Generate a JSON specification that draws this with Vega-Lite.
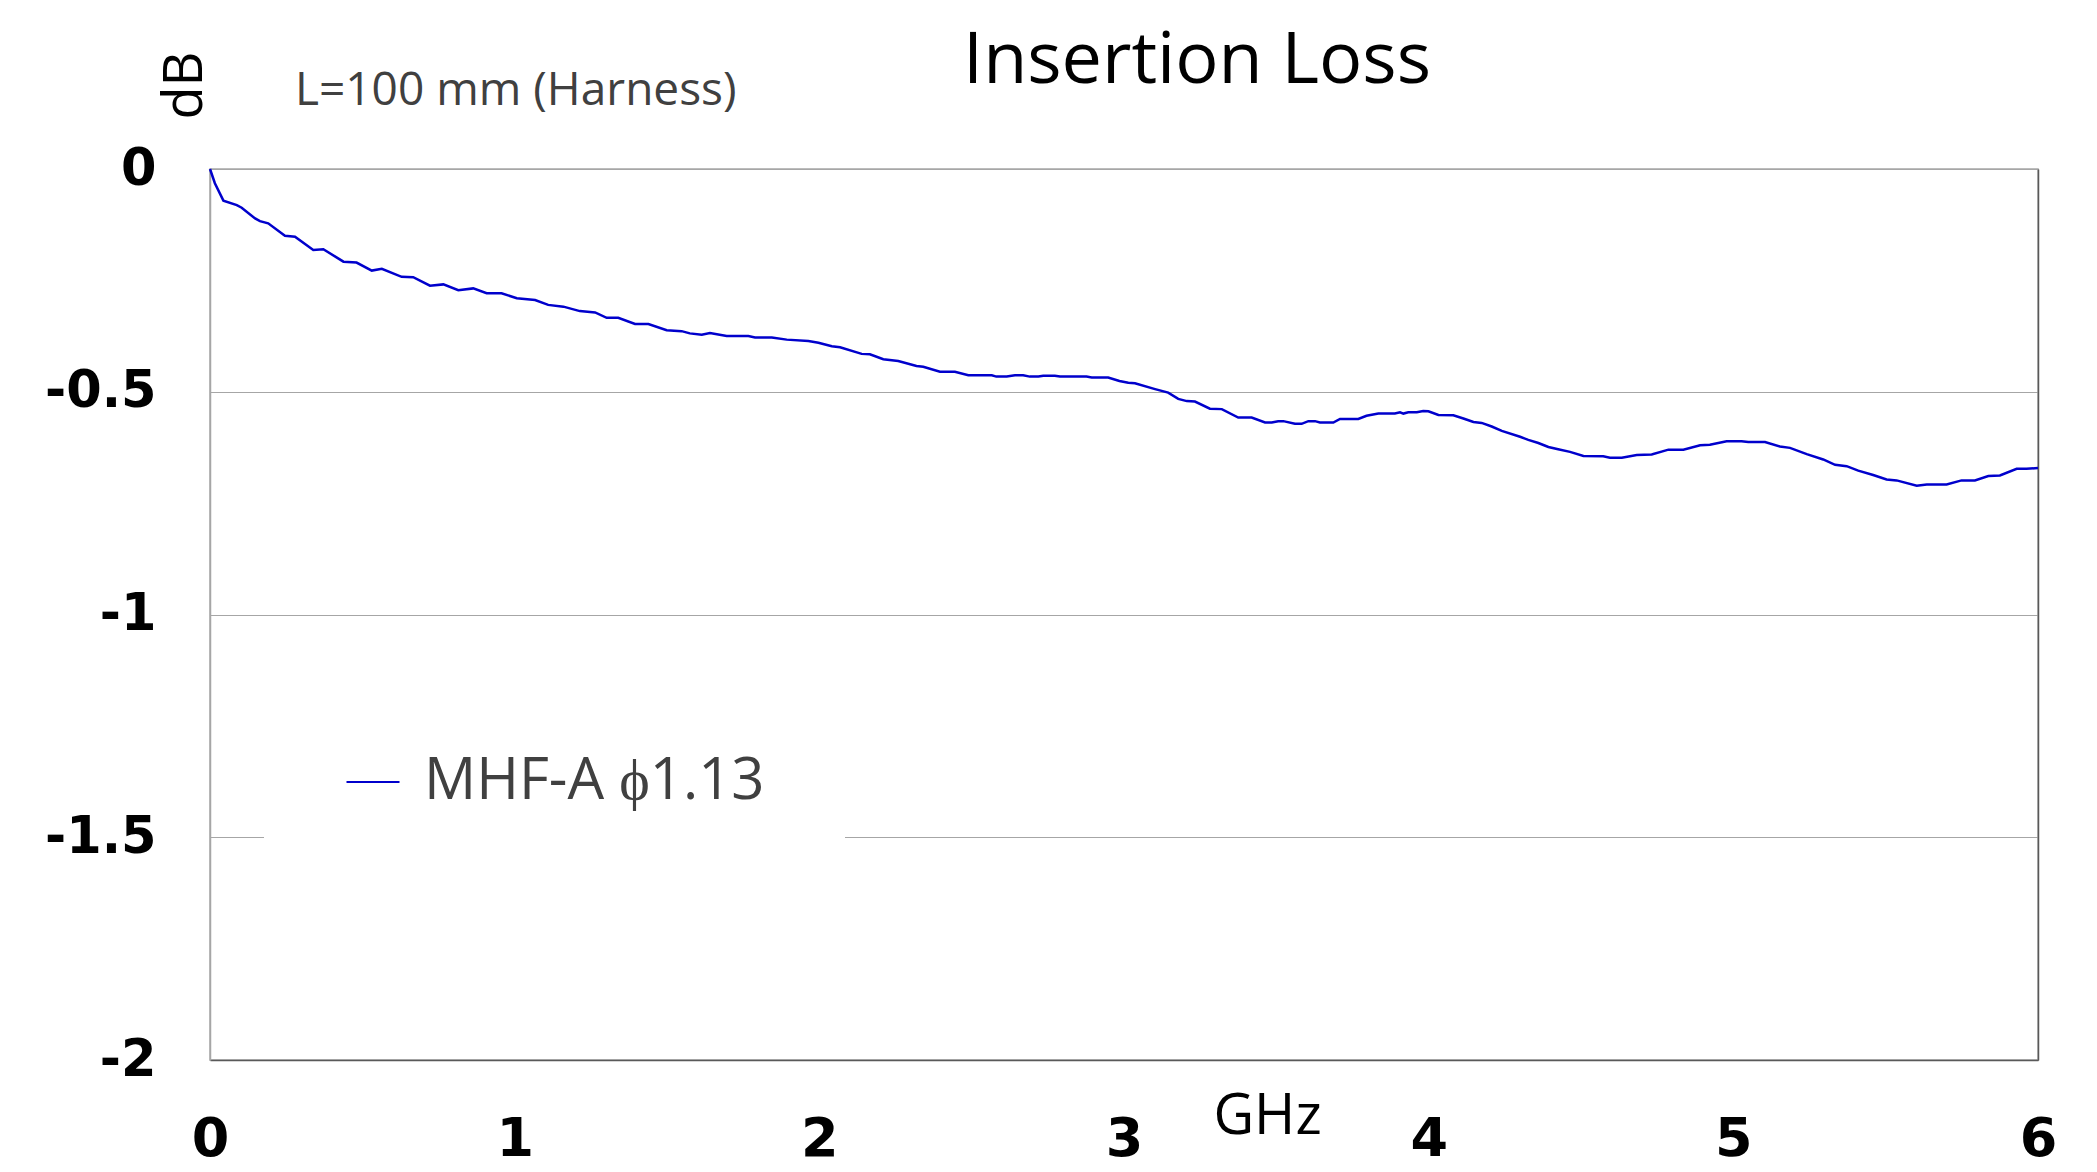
{
  "$schema": "https://vega.github.io/schema/vega-lite/v6.json",
  "width": 1828,
  "height": 891,
  "autosize": {"type": "none"},
  "padding": {"left": 210, "top": 169, "right": 59, "bottom": 112},
  "background": "white",
  "title": {
    "text": "Insertion Loss",
    "font": "Open Sans",
    "fontSize": 72,
    "fontWeight": "normal",
    "color": "#000000",
    "anchor": "middle",
    "frame": "group",
    "dx": 73,
    "baseline": "alphabetic",
    "offset": -104
  },
  "config": {
    "view": {"stroke": "#A6A6A6", "strokeWidth": 1.5},
    "axis": {"labelFont": "DejaVu Sans", "labelFontWeight": "bold", "labelColor": "#000000"}
  },
  "layer": [
    {
      "data": {
        "values": [
          {"f": 0, "db": 0, "series": "MHF-A ϕ1.13"},
          {"f": 0.016, "db": -0.032, "series": "MHF-A ϕ1.13"},
          {"f": 0.044, "db": -0.071, "series": "MHF-A ϕ1.13"},
          {"f": 0.088, "db": -0.081, "series": "MHF-A ϕ1.13"},
          {"f": 0.104, "db": -0.087, "series": "MHF-A ϕ1.13"},
          {"f": 0.148, "db": -0.111, "series": "MHF-A ϕ1.13"},
          {"f": 0.164, "db": -0.117, "series": "MHF-A ϕ1.13"},
          {"f": 0.191, "db": -0.122, "series": "MHF-A ϕ1.13"},
          {"f": 0.246, "db": -0.150, "series": "MHF-A ϕ1.13"},
          {"f": 0.279, "db": -0.152, "series": "MHF-A ϕ1.13"},
          {"f": 0.339, "db": -0.182, "series": "MHF-A ϕ1.13"},
          {"f": 0.372, "db": -0.180, "series": "MHF-A ϕ1.13"},
          {"f": 0.438, "db": -0.208, "series": "MHF-A ϕ1.13"},
          {"f": 0.481, "db": -0.210, "series": "MHF-A ϕ1.13"},
          {"f": 0.531, "db": -0.228, "series": "MHF-A ϕ1.13"},
          {"f": 0.564, "db": -0.224, "series": "MHF-A ϕ1.13"},
          {"f": 0.629, "db": -0.242, "series": "MHF-A ϕ1.13"},
          {"f": 0.667, "db": -0.243, "series": "MHF-A ϕ1.13"},
          {"f": 0.722, "db": -0.262, "series": "MHF-A ϕ1.13"},
          {"f": 0.766, "db": -0.259, "series": "MHF-A ϕ1.13"},
          {"f": 0.815, "db": -0.272, "series": "MHF-A ϕ1.13"},
          {"f": 0.864, "db": -0.268, "series": "MHF-A ϕ1.13"},
          {"f": 0.908, "db": -0.279, "series": "MHF-A ϕ1.13"},
          {"f": 0.957, "db": -0.279, "series": "MHF-A ϕ1.13"},
          {"f": 1.007, "db": -0.290, "series": "MHF-A ϕ1.13"},
          {"f": 1.067, "db": -0.294, "series": "MHF-A ϕ1.13"},
          {"f": 1.110, "db": -0.305, "series": "MHF-A ϕ1.13"},
          {"f": 1.160, "db": -0.309, "series": "MHF-A ϕ1.13"},
          {"f": 1.214, "db": -0.319, "series": "MHF-A ϕ1.13"},
          {"f": 1.264, "db": -0.322, "series": "MHF-A ϕ1.13"},
          {"f": 1.302, "db": -0.334, "series": "MHF-A ϕ1.13"},
          {"f": 1.340, "db": -0.334, "series": "MHF-A ϕ1.13"},
          {"f": 1.395, "db": -0.348, "series": "MHF-A ϕ1.13"},
          {"f": 1.439, "db": -0.348, "series": "MHF-A ϕ1.13"},
          {"f": 1.499, "db": -0.362, "series": "MHF-A ϕ1.13"},
          {"f": 1.548, "db": -0.364, "series": "MHF-A ϕ1.13"},
          {"f": 1.575, "db": -0.369, "series": "MHF-A ϕ1.13"},
          {"f": 1.614, "db": -0.372, "series": "MHF-A ϕ1.13"},
          {"f": 1.641, "db": -0.368, "series": "MHF-A ϕ1.13"},
          {"f": 1.696, "db": -0.375, "series": "MHF-A ϕ1.13"},
          {"f": 1.767, "db": -0.375, "series": "MHF-A ϕ1.13"},
          {"f": 1.789, "db": -0.378, "series": "MHF-A ϕ1.13"},
          {"f": 1.844, "db": -0.378, "series": "MHF-A ϕ1.13"},
          {"f": 1.893, "db": -0.383, "series": "MHF-A ϕ1.13"},
          {"f": 1.964, "db": -0.386, "series": "MHF-A ϕ1.13"},
          {"f": 1.997, "db": -0.390, "series": "MHF-A ϕ1.13"},
          {"f": 2.041, "db": -0.398, "series": "MHF-A ϕ1.13"},
          {"f": 2.068, "db": -0.400, "series": "MHF-A ϕ1.13"},
          {"f": 2.139, "db": -0.415, "series": "MHF-A ϕ1.13"},
          {"f": 2.166, "db": -0.416, "series": "MHF-A ϕ1.13"},
          {"f": 2.210, "db": -0.427, "series": "MHF-A ϕ1.13"},
          {"f": 2.259, "db": -0.431, "series": "MHF-A ϕ1.13"},
          {"f": 2.319, "db": -0.442, "series": "MHF-A ϕ1.13"},
          {"f": 2.341, "db": -0.444, "series": "MHF-A ϕ1.13"},
          {"f": 2.396, "db": -0.455, "series": "MHF-A ϕ1.13"},
          {"f": 2.445, "db": -0.455, "series": "MHF-A ϕ1.13"},
          {"f": 2.489, "db": -0.463, "series": "MHF-A ϕ1.13"},
          {"f": 2.566, "db": -0.463, "series": "MHF-A ϕ1.13"},
          {"f": 2.581, "db": -0.466, "series": "MHF-A ϕ1.13"},
          {"f": 2.615, "db": -0.466, "series": "MHF-A ϕ1.13"},
          {"f": 2.642, "db": -0.463, "series": "MHF-A ϕ1.13"},
          {"f": 2.669, "db": -0.463, "series": "MHF-A ϕ1.13"},
          {"f": 2.691, "db": -0.466, "series": "MHF-A ϕ1.13"},
          {"f": 2.719, "db": -0.466, "series": "MHF-A ϕ1.13"},
          {"f": 2.735, "db": -0.464, "series": "MHF-A ϕ1.13"},
          {"f": 2.773, "db": -0.464, "series": "MHF-A ϕ1.13"},
          {"f": 2.790, "db": -0.466, "series": "MHF-A ϕ1.13"},
          {"f": 2.877, "db": -0.466, "series": "MHF-A ϕ1.13"},
          {"f": 2.894, "db": -0.468, "series": "MHF-A ϕ1.13"},
          {"f": 2.948, "db": -0.468, "series": "MHF-A ϕ1.13"},
          {"f": 2.985, "db": -0.476, "series": "MHF-A ϕ1.13"},
          {"f": 3.014, "db": -0.480, "series": "MHF-A ϕ1.13"},
          {"f": 3.036, "db": -0.481, "series": "MHF-A ϕ1.13"},
          {"f": 3.102, "db": -0.494, "series": "MHF-A ϕ1.13"},
          {"f": 3.145, "db": -0.502, "series": "MHF-A ϕ1.13"},
          {"f": 3.178, "db": -0.516, "series": "MHF-A ϕ1.13"},
          {"f": 3.206, "db": -0.521, "series": "MHF-A ϕ1.13"},
          {"f": 3.233, "db": -0.522, "series": "MHF-A ϕ1.13"},
          {"f": 3.282, "db": -0.538, "series": "MHF-A ϕ1.13"},
          {"f": 3.321, "db": -0.539, "series": "MHF-A ϕ1.13"},
          {"f": 3.375, "db": -0.558, "series": "MHF-A ϕ1.13"},
          {"f": 3.419, "db": -0.558, "series": "MHF-A ϕ1.13"},
          {"f": 3.463, "db": -0.569, "series": "MHF-A ϕ1.13"},
          {"f": 3.485, "db": -0.569, "series": "MHF-A ϕ1.13"},
          {"f": 3.506, "db": -0.566, "series": "MHF-A ϕ1.13"},
          {"f": 3.523, "db": -0.566, "series": "MHF-A ϕ1.13"},
          {"f": 3.561, "db": -0.572, "series": "MHF-A ϕ1.13"},
          {"f": 3.583, "db": -0.572, "series": "MHF-A ϕ1.13"},
          {"f": 3.605, "db": -0.566, "series": "MHF-A ϕ1.13"},
          {"f": 3.627, "db": -0.566, "series": "MHF-A ϕ1.13"},
          {"f": 3.643, "db": -0.569, "series": "MHF-A ϕ1.13"},
          {"f": 3.687, "db": -0.569, "series": "MHF-A ϕ1.13"},
          {"f": 3.709, "db": -0.561, "series": "MHF-A ϕ1.13"},
          {"f": 3.769, "db": -0.561, "series": "MHF-A ϕ1.13"},
          {"f": 3.796, "db": -0.554, "series": "MHF-A ϕ1.13"},
          {"f": 3.835, "db": -0.549, "series": "MHF-A ϕ1.13"},
          {"f": 3.889, "db": -0.549, "series": "MHF-A ϕ1.13"},
          {"f": 3.906, "db": -0.546, "series": "MHF-A ϕ1.13"},
          {"f": 3.917, "db": -0.549, "series": "MHF-A ϕ1.13"},
          {"f": 3.933, "db": -0.546, "series": "MHF-A ϕ1.13"},
          {"f": 3.961, "db": -0.546, "series": "MHF-A ϕ1.13"},
          {"f": 3.982, "db": -0.543, "series": "MHF-A ϕ1.13"},
          {"f": 3.999, "db": -0.544, "series": "MHF-A ϕ1.13"},
          {"f": 4.032, "db": -0.552, "series": "MHF-A ϕ1.13"},
          {"f": 4.081, "db": -0.553, "series": "MHF-A ϕ1.13"},
          {"f": 4.114, "db": -0.560, "series": "MHF-A ϕ1.13"},
          {"f": 4.147, "db": -0.568, "series": "MHF-A ϕ1.13"},
          {"f": 4.174, "db": -0.570, "series": "MHF-A ϕ1.13"},
          {"f": 4.207, "db": -0.578, "series": "MHF-A ϕ1.13"},
          {"f": 4.240, "db": -0.588, "series": "MHF-A ϕ1.13"},
          {"f": 4.300, "db": -0.601, "series": "MHF-A ϕ1.13"},
          {"f": 4.327, "db": -0.608, "series": "MHF-A ϕ1.13"},
          {"f": 4.360, "db": -0.615, "series": "MHF-A ϕ1.13"},
          {"f": 4.393, "db": -0.624, "series": "MHF-A ϕ1.13"},
          {"f": 4.425, "db": -0.629, "series": "MHF-A ϕ1.13"},
          {"f": 4.464, "db": -0.635, "series": "MHF-A ϕ1.13"},
          {"f": 4.508, "db": -0.644, "series": "MHF-A ϕ1.13"},
          {"f": 4.573, "db": -0.645, "series": "MHF-A ϕ1.13"},
          {"f": 4.595, "db": -0.648, "series": "MHF-A ϕ1.13"},
          {"f": 4.634, "db": -0.648, "series": "MHF-A ϕ1.13"},
          {"f": 4.683, "db": -0.642, "series": "MHF-A ϕ1.13"},
          {"f": 4.732, "db": -0.641, "series": "MHF-A ϕ1.13"},
          {"f": 4.787, "db": -0.630, "series": "MHF-A ϕ1.13"},
          {"f": 4.836, "db": -0.630, "series": "MHF-A ϕ1.13"},
          {"f": 4.891, "db": -0.620, "series": "MHF-A ϕ1.13"},
          {"f": 4.923, "db": -0.619, "series": "MHF-A ϕ1.13"},
          {"f": 4.978, "db": -0.611, "series": "MHF-A ϕ1.13"},
          {"f": 5.027, "db": -0.611, "series": "MHF-A ϕ1.13"},
          {"f": 5.049, "db": -0.613, "series": "MHF-A ϕ1.13"},
          {"f": 5.104, "db": -0.613, "series": "MHF-A ϕ1.13"},
          {"f": 5.153, "db": -0.623, "series": "MHF-A ϕ1.13"},
          {"f": 5.186, "db": -0.626, "series": "MHF-A ϕ1.13"},
          {"f": 5.241, "db": -0.640, "series": "MHF-A ϕ1.13"},
          {"f": 5.295, "db": -0.652, "series": "MHF-A ϕ1.13"},
          {"f": 5.334, "db": -0.664, "series": "MHF-A ϕ1.13"},
          {"f": 5.372, "db": -0.667, "series": "MHF-A ϕ1.13"},
          {"f": 5.410, "db": -0.677, "series": "MHF-A ϕ1.13"},
          {"f": 5.459, "db": -0.687, "series": "MHF-A ϕ1.13"},
          {"f": 5.503, "db": -0.697, "series": "MHF-A ϕ1.13"},
          {"f": 5.536, "db": -0.699, "series": "MHF-A ϕ1.13"},
          {"f": 5.602, "db": -0.711, "series": "MHF-A ϕ1.13"},
          {"f": 5.635, "db": -0.708, "series": "MHF-A ϕ1.13"},
          {"f": 5.700, "db": -0.708, "series": "MHF-A ϕ1.13"},
          {"f": 5.749, "db": -0.699, "series": "MHF-A ϕ1.13"},
          {"f": 5.793, "db": -0.699, "series": "MHF-A ϕ1.13"},
          {"f": 5.837, "db": -0.689, "series": "MHF-A ϕ1.13"},
          {"f": 5.875, "db": -0.688, "series": "MHF-A ϕ1.13"},
          {"f": 5.930, "db": -0.673, "series": "MHF-A ϕ1.13"},
          {"f": 5.962, "db": -0.673, "series": "MHF-A ϕ1.13"},
          {"f": 6.000, "db": -0.671, "series": "MHF-A ϕ1.13"}
        ]
      },
      "mark": {"type": "line", "strokeWidth": 2.5},
      "encoding": {
        "x": {
          "field": "f",
          "type": "quantitative",
          "scale": {"domain": [0, 6], "nice": false, "zero": false},
          "axis": {
            "values": [0, 1, 2, 3, 4, 5, 6],
            "format": "d",
            "labelFontSize": 54,
            "labelBaseline": "alphabetic",
            "labelPadding": 95,
            "labelFlush": false,
            "ticks": false,
            "grid": false,
            "domainColor": "#595959",
            "domainWidth": 1.5,
            "title": "GHz",
            "titleFont": "Open Sans",
            "titleFontSize": 56,
            "titleFontWeight": "normal",
            "titleColor": "#000000",
            "titleX": 1057,
            "titleY": 73,
            "titleAlign": "center",
            "titleBaseline": "alphabetic"
          }
        },
        "y": {
          "field": "db",
          "type": "quantitative",
          "scale": {"domain": [-2, 0], "nice": false, "zero": false},
          "axis": {
            "values": [0, -0.5, -1, -1.5, -2],
            "labelExpr": "datum.value == 0 ? '0' : '-' + format(abs(datum.value), '~g')",
            "labelFontSize": 51,
            "labelPadding": 54,
            "labelBaseline": "middle",
            "labelFlush": false,
            "ticks": false,
            "grid": true,
            "gridColor": "#A6A6A6",
            "gridWidth": 1.2,
            "domainColor": "#A6A6A6",
            "domainWidth": 1.5,
            "title": "dB",
            "titleFont": "Open Sans",
            "titleFontSize": 54,
            "titleFontWeight": "normal",
            "titleColor": "#000000",
            "titleX": -25,
            "titleY": -84,
            "titleAngle": 270,
            "titleAlign": "center",
            "titleBaseline": "middle"
          }
        },
        "color": {
          "field": "series",
          "type": "nominal",
          "scale": {"range": ["#0000CC"]},
          "legend": {
            "title": null,
            "orient": "none",
            "legendX": 54,
            "legendY": 504,
            "fillColor": "white",
            "padding": 80,
            "symbolType": "stroke",
            "symbolSize": 2809,
            "symbolStrokeWidth": 2,
            "labelFont": "Open Sans",
            "labelFontSize": 58,
            "labelColor": "#404040",
            "labelOffset": 22,
            "labelLimit": 800
          }
        }
      }
    },
    {
      "data": {"values": [{"label": "L=100 mm (Harness)"}]},
      "mark": {
        "type": "text",
        "align": "left",
        "baseline": "alphabetic",
        "font": "Open Sans",
        "fontSize": 46,
        "color": "#404040"
      },
      "encoding": {
        "x": {
          "datum": 0.279,
          "type": "quantitative",
          "axis": {
            "values": [0, 1, 2, 3, 4, 5, 6],
            "format": "d",
            "labelFontSize": 54,
            "labelBaseline": "alphabetic",
            "labelPadding": 95,
            "labelFlush": false,
            "ticks": false,
            "grid": false,
            "domainColor": "#595959",
            "domainWidth": 1.5,
            "title": "GHz",
            "titleFont": "Open Sans",
            "titleFontSize": 56,
            "titleFontWeight": "normal",
            "titleColor": "#000000",
            "titleX": 1057,
            "titleY": 73,
            "titleAlign": "center",
            "titleBaseline": "alphabetic"
          }
        },
        "y": {
          "datum": 0.144,
          "type": "quantitative",
          "axis": {
            "orient": "right",
            "labels": false,
            "ticks": false,
            "grid": false,
            "title": null,
            "domainColor": "#595959",
            "domainWidth": 1.5
          }
        },
        "text": {"field": "label"}
      }
    }
  ],
  "resolve": {"axis": {"y": "independent"}}
}
